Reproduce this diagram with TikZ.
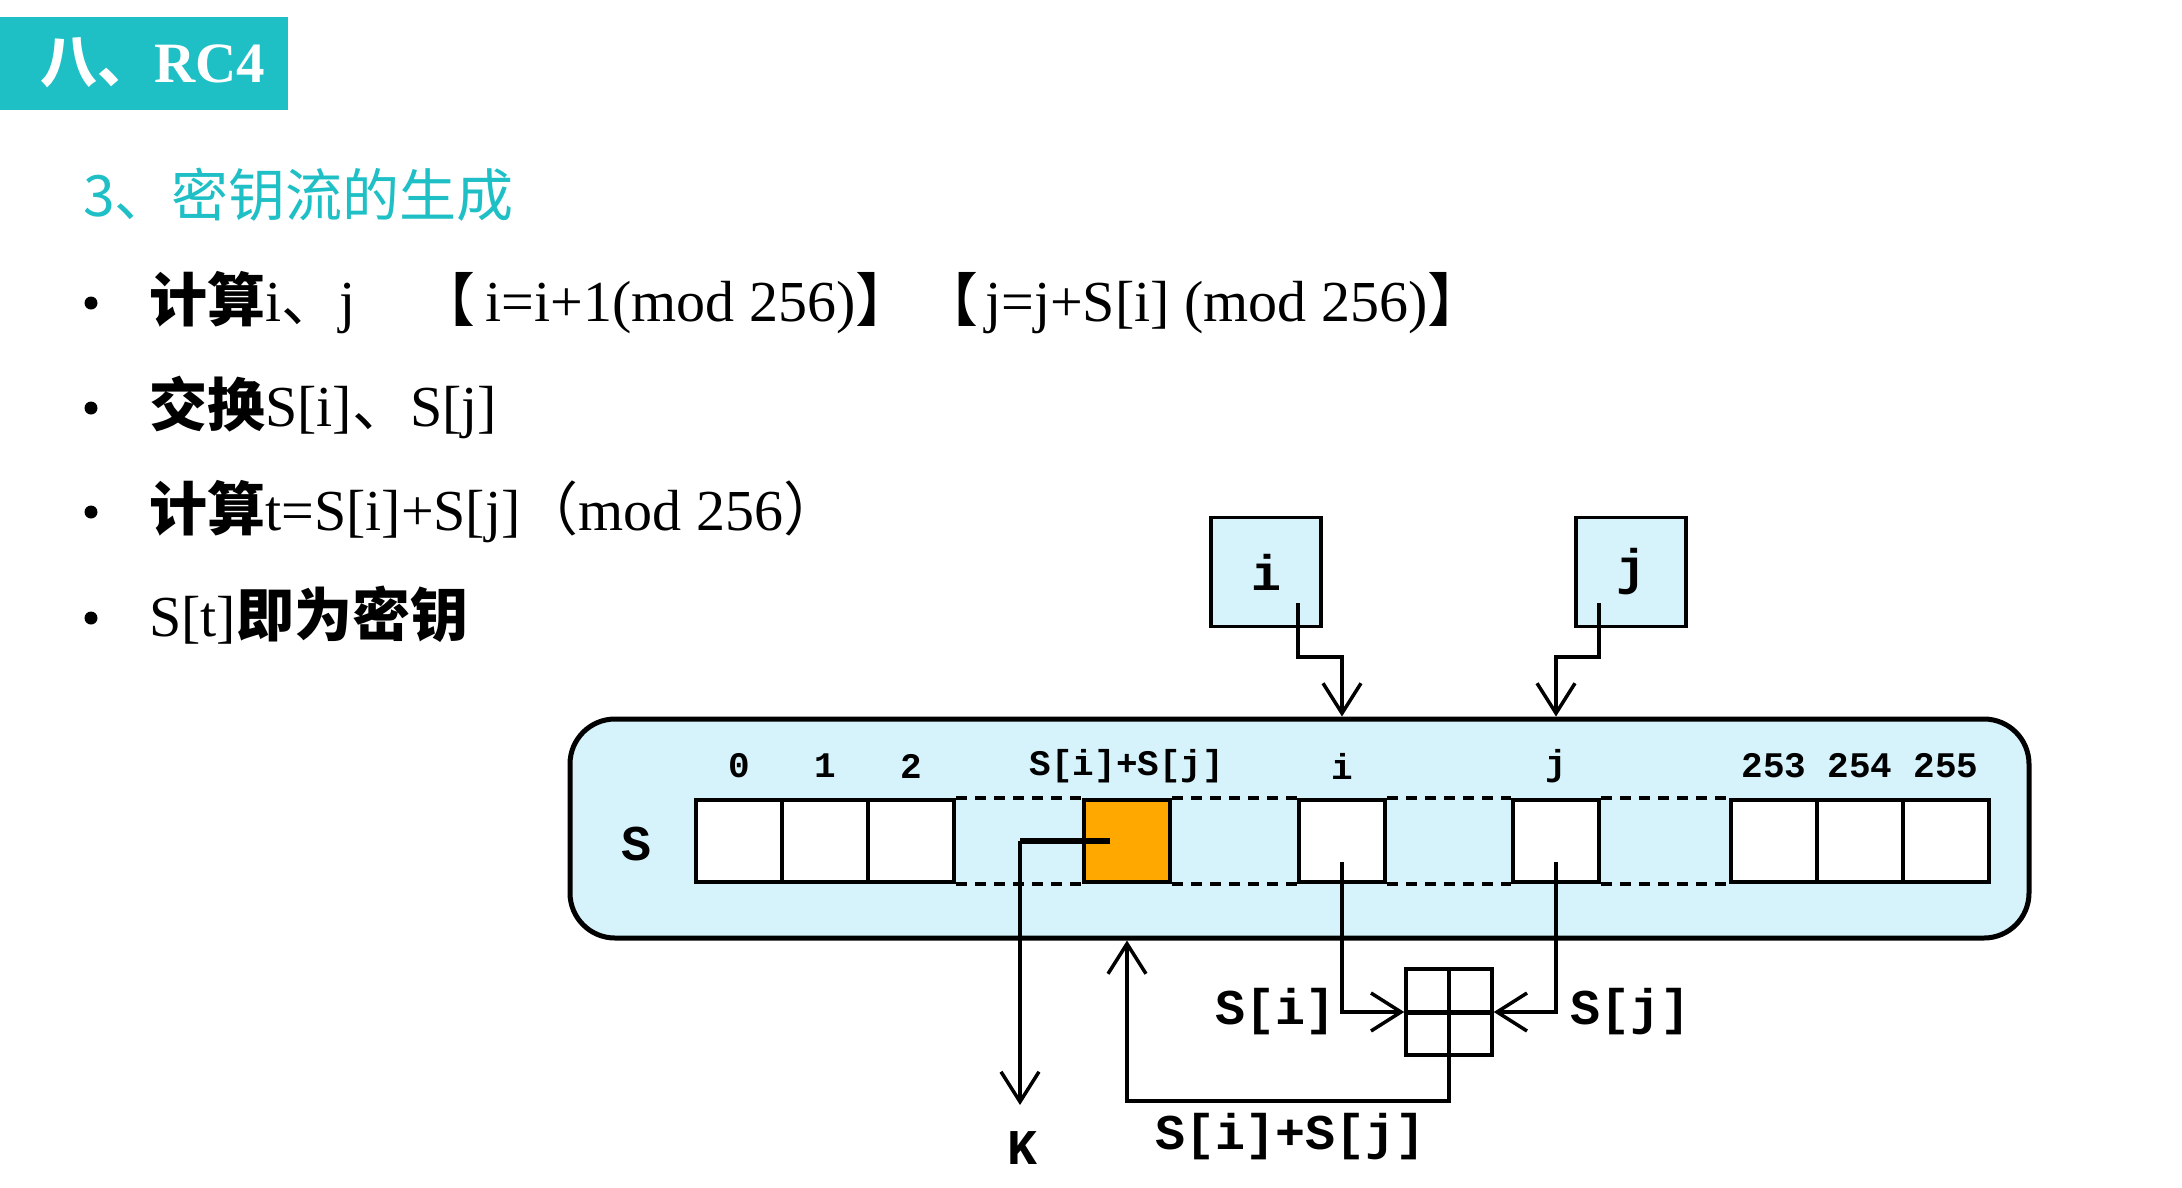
\documentclass[tikz,border=0pt]{standalone}
\usepackage{fontspec}
\setmainfont{Liberation Serif}
\newfontfamily\cjk{Noto Sans CJK SC}
\newfontfamily\diagmono{Liberation Mono}
\usetikzlibrary{arrows.meta, positioning}

\definecolor{titleteal}{HTML}{1FBFC6}
\definecolor{sblue}{HTML}{D6F3FB}
\definecolor{korange}{HTML}{FFA800}

\tikzset{
  cell/.style={draw, line width=3.5pt, minimum width=86pt, minimum height=82pt, inner sep=0pt},
  ptr/.style={draw, line width=3.5pt, fill=sblue, minimum width=110pt, minimum height=109pt, inner sep=0pt, font=\diagmono\bfseries\fontsize{50}{50}\selectfont},
  idx/.style={inner sep=0pt, font=\diagmono\bfseries\fontsize{36}{36}\selectfont},
  lbl/.style={inner sep=0pt, font=\diagmono\bfseries\fontsize{50}{50}\selectfont},
  conn/.style={line width=3.5pt, -{Straight Barb[length=30pt, width=38pt]}},
  dot/.style={circle, fill=black, minimum size=13pt, inner sep=0pt},
  txt/.style={anchor=base west, inner sep=0pt, font=\fontsize{58}{64}\selectfont}
}

\begin{document}
\begin{tikzpicture}[x=1pt, y=-1pt]
    \fill[white] (0,0) rectangle (2182,1187);
    \useasboundingbox (0,0) rectangle (2182,1187);

    % Title and heading
    \node[fill=titleteal, anchor=north west, minimum width=288pt, minimum height=93pt, inner sep=0pt] (titlebox) at (0,17) {};
    \node[text=white, inner sep=0pt, font=\fontsize{57}{57}\selectfont] (title) at (153,63) {{\cjk\bfseries 八、}\textbf{RC4}};
    \node[anchor=west, inner sep=0pt, text=titleteal, font=\cjk\fontsize{57}{64}\selectfont] (sub) at (83,195) {3、密钥流的生成};

    % Bullet list
    \foreach \y/\t [count=\k] in {
        321/{{\cjk\bfseries 计算}i{\cjk 、}j\hspace{62pt}{\cjk 【}\hspace{10pt}i=i+1(mod 256){\cjk 】}\hspace{7pt}{\cjk 【}\hspace{7pt}j=j+S[i] (mod 256){\cjk 】}},
        426/{{\cjk\bfseries 交换}S[i]{\cjk 、}S[j]},
        530/{{\cjk\bfseries 计算}t=S[i]+S[j]{\cjk （}mod 256{\cjk ）}},
        636/{S[t]{\cjk\bfseries 即为密钥}}}
      {
      \node[dot] (dot\k) at (91,\y-18) {};
      \node[txt] (line\k) at (149,\y) {\t};
      }

    % State array S
    \node[draw, line width=5pt, fill=sblue, rounded corners=45pt, minimum width=1459pt, minimum height=219pt, inner sep=0pt] (sbox) at (1299.5,828.5) {};
    \node[lbl] (slbl) at (636,844) {S};

    \foreach \n/\x/\t/\f in {c0/739/0/white, c1/825/1/white, c2/911/2/white, cs/1127/{S[i]+S[j]}/korange,
                             ci/1342/i/white, cj/1556/j/white, ca/1774/253/white, cb/1860/254/white, cc/1946/255/white}
      {
      \node[cell, fill=\f] (\n) at (\x,841) {};
      \node[idx] (\n-idx) at (\x,766) {\t};
      }

    % Dotted gaps between cells
    \foreach \a/\b in {c2/cs, cs/ci, ci/cj, cj/ca}
      {
      \draw[line width=4pt, dash pattern=on 11pt off 8pt] (\a.north east) -- (\b.north west);
      \draw[line width=4pt, dash pattern=on 11pt off 8pt] (\a.south east) -- (\b.south west);
      }

    % Index registers i and j
    \node[ptr] (ibox) at (1266,572) {i};
    \node[ptr] (jbox) at (1631,572) {j};
    \draw[conn] ([xshift=32pt,yshift=-31pt]ibox.center) -- ++(0,54) -| (ci.north |- sbox.north);
    \draw[conn] ([xshift=-32pt,yshift=-31pt]jbox.center) -- ++(0,54) -| (cj.north |- sbox.north);

    % Swap and sum
    \node[cell, minimum width=86pt, minimum height=86pt] (sw) at (1449,1012) {};
    \draw[line width=3.5pt] (sw.north) -- (sw.south);
    \draw[line width=5pt] (sw.west) -- (sw.east);
    \draw[conn] ([yshift=-21pt]ci.center) |- (sw.west);
    \draw[conn] ([yshift=-21pt]cj.center) |- (sw.east);
    \node[lbl, anchor=east] (silbl) at (1336,1012) {S[i]};
    \node[lbl, anchor=west] (sjlbl) at (1570,1012) {S[j]};

    \draw[conn] (sw.south) -- ++(0,44) -| (cs.south |- sbox.south);
    \node[lbl] (sumlbl) at (1291,1137) {S[i]+S[j]};

    % Key output
    \coordinate (kend) at (1020,1105);
    \draw[line width=6pt] ([xshift=-17pt]cs.center) -- (kend |- cs.center);
    \draw[conn] (kend |- cs.center) -- (kend);
    \node[lbl] (klbl) at (1022,1148) {K};
\end{tikzpicture}
\end{document}
